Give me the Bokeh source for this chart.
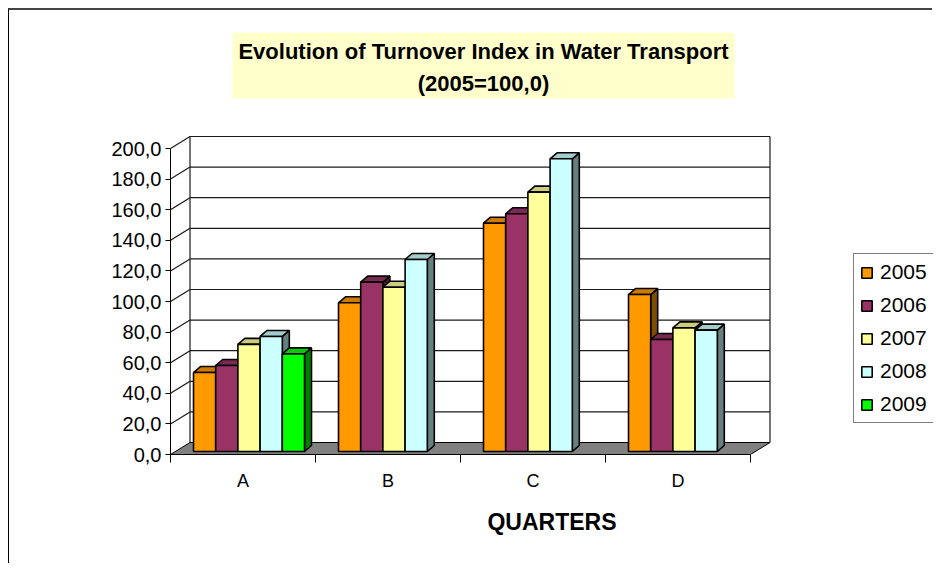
from bokeh.plotting import figure
from bokeh.models import Range1d, FixedTicker, Legend, LegendItem
from bokeh.core.properties import value
from bokeh.embed import file_html
from bokeh.resources import INLINE

# ---------------- data ----------------
quarters = ["A", "B", "C", "D"]
years = ["2005", "2006", "2007", "2008", "2009"]
v2005 = [51.6, 97.2, 149.2, 102.6]
v2006 = [56.2, 110.7, 155.4, 73.2]
v2007 = [70.0, 107.4, 169.5, 80.8]
v2008 = [75.2, 125.5, 191.3, 79.3]
v2009 = [63.8, None, None, None]
series = [v2005, v2006, v2007, v2008, v2009]
y_ticks = [0, 20, 40, 60, 80, 100, 120, 140, 160, 180, 200]
y_tick_labels = ["0,0", "20,0", "40,0", "60,0", "80,0", "100,0", "120,0",
                 "140,0", "160,0", "180,0", "200,0"]
title_lines = ["Evolution of Turnover Index in Water Transport", "(2005=100,0)"]

# ---------------- style ----------------
front_colors = ["#FF9900", "#993366", "#FFFF99", "#CCFFFF", "#00FF00"]
top_colors = ["#CC7A00", "#7A2952", "#CCCC7A", "#A3CCCC", "#00CC00"]
side_colors = ["#804D00", "#4D1A33", "#80804D", "#668080", "#008000"]
FONT = "Liberation Sans"

PX_X = 145.0      # pixels per category
PX_Y = 1.53       # pixels per value unit
WX, WY = 19.5 / PX_X, 12 / PX_Y     # wall depth
BW = 22.2 / PX_X                     # bar width
SHIFT_X, BASE_Y = 6 / PX_X, 3 / PX_Y  # bar front face inside floor
DX, DY = 7 / PX_X, 6 / PX_Y          # bar depth

W, H = 924, 555
LEFT, BOTTOM = 161, 111
frame_w = W - LEFT
frame_h = H - BOTTOM

p = figure(width=W, height=H, output_backend="svg", toolbar_location=None,
           x_range=Range1d(0, frame_w / PX_X), y_range=Range1d(0, frame_h / PX_Y),
           min_border_left=LEFT, min_border_right=0, min_border_top=0,
           min_border_bottom=BOTTOM, outline_line_color=None,
           background_fill_color="white", border_fill_color="white",
           styles={"border-top": "2px solid #444444", "border-left": "1px solid #000000",
                   "margin-left": "8px", "margin-top": "8px"})
p.xgrid.visible = False
p.ygrid.visible = False

# ---------- walls / floor ----------
n_cat = len(quarters)
p.patch([0, n_cat, n_cat + WX, WX], [0, 0, WY, WY], fill_color="#808080",
        line_color="black", line_width=1)
# back wall gridlines
p.segment(x0=[WX] * len(y_ticks[1:]), y0=[t + WY for t in y_ticks[1:]],
          x1=[n_cat + WX] * len(y_ticks[1:]), y1=[t + WY for t in y_ticks[1:]],
          line_color="#1a1a1a", line_width=1.2)
# left wall diagonals
p.segment(x0=[0] * len(y_ticks[1:]), y0=y_ticks[1:],
          x1=[WX] * len(y_ticks[1:]), y1=[t + WY for t in y_ticks[1:]],
          line_color="#1a1a1a", line_width=1.2)
# back wall edges
p.segment(x0=[WX, n_cat + WX], y0=[WY, WY], x1=[WX, n_cat + WX],
          y1=[y_ticks[-1] + WY] * 2, line_color="#1a1a1a", line_width=1.2)

# ---------- bars ----------
n_ser = len(series)
legend_items = []
for s, vals in enumerate(series):
    lefts, rights, tops, bottoms = [], [], [], []
    txs, tys, sxs, sys_ = [], [], [], []
    for c, v in enumerate(vals):
        if v is None:
            continue
        l = c + 0.5 - n_ser * BW / 2 + SHIFT_X + s * BW
        r = l + BW
        b = BASE_Y
        t = BASE_Y + v
        lefts.append(l); rights.append(r); bottoms.append(b); tops.append(t)
        txs.append([l, r, r + DX, l + DX]); tys.append([t, t, t + DY, t + DY])
        sxs.append([r, r + DX, r + DX, r]); sys_.append([b, b + DY, t + DY, t])
    p.patches(sxs, sys_, fill_color=side_colors[s], line_color="black", line_width=1.6)
    p.patches(txs, tys, fill_color=top_colors[s], line_color="black", line_width=1.6)
    fr = p.quad(left=lefts, right=rights, bottom=bottoms, top=tops,
                fill_color=front_colors[s], line_color="black", line_width=1.6)
    legend_items.append(LegendItem(label=years[s], renderers=[fr]))

# ---------- axes ----------
yax = p.yaxis[0]
yax.ticker = FixedTicker(ticks=y_ticks, minor_ticks=[])
yax.major_label_overrides = {t: lab for t, lab in zip(y_ticks, y_tick_labels)}
yax.bounds = (0, 200)
yax.major_tick_out = 5
yax.major_tick_in = 0
yax.major_label_standoff = 4
yax.major_label_text_font = FONT
yax.major_label_text_font_size = "20px"
yax.major_label_text_color = "black"
yax.axis_line_color = "black"
yax.major_tick_line_color = "black"

xax = p.xaxis[0]
xax.ticker = FixedTicker(ticks=[c + 0.5 for c in range(n_cat)],
                         minor_ticks=list(range(n_cat + 1)))
xax.major_label_overrides = {c + 0.5: q for c, q in enumerate(quarters)}
xax.bounds = (0, n_cat)
xax.major_tick_out = 0
xax.major_tick_in = 0
xax.minor_tick_out = 8
xax.minor_tick_in = 0
xax.minor_tick_line_color = "black"
xax.axis_line_color = "black"
xax.major_label_standoff = 8
xax.major_label_text_font = FONT
xax.major_label_text_font_size = "18px"
xax.major_label_text_color = "black"
xax.axis_label = "QUARTERS"
xax.axis_label_text_font = FONT
xax.axis_label_text_font_style = "bold"
xax.axis_label_text_font_size = "23px"
xax.axis_label_text_color = "black"
xax.axis_label_standoff = 15

# ---------- title box ----------
bx0, bx1 = (232 - 170) / PX_X, (734 - 170) / PX_X
by0, by1 = (454 - 98) / PX_Y, (454 - 32) / PX_Y
p.quad(left=[bx0], right=[bx1], bottom=[by0], top=[by1], fill_color="#FFFFCC",
       line_color=None)
p.text(x=[(bx0 + bx1) / 2] * 2, y=[(454 - 51.3) / PX_Y, (454 - 82.5) / PX_Y],
       text=title_lines, text_font=value(FONT), text_font_style="bold",
       text_font_size="22px", text_align="center", text_baseline="middle",
       text_color="black")

# ---------- legend ----------
legend = Legend(items=legend_items, location=(683, 31), orientation="vertical",
                border_line_color="black", border_line_width=1,
                background_fill_color="white", background_fill_alpha=1,
                glyph_width=13, glyph_height=13, label_standoff=7,
                label_text_font=FONT, label_text_font_size="21px",
                label_text_color="black", spacing=9, padding=6, margin=0)
p.add_layout(legend)

open("out.html", "w").write(file_html(p, INLINE))
